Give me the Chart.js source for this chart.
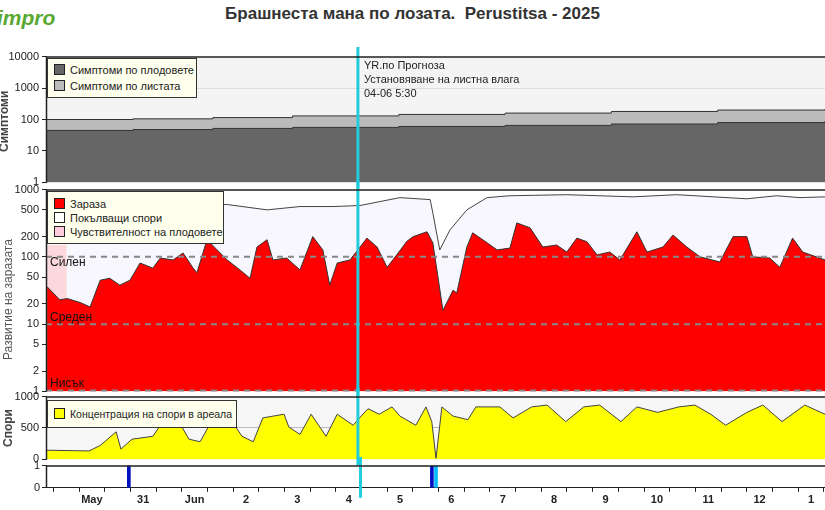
<!DOCTYPE html>
<html><head><meta charset="utf-8">
<script src="https://cdn.jsdelivr.net/npm/chart.js@4"></script>
<style>
body{margin:0;width:825px;height:510px;background:#fff;position:relative;overflow:hidden;font-family:"Liberation Sans",Arial,sans-serif}
canvas{position:absolute;left:0}
.t{position:absolute;white-space:nowrap}
.lg{position:absolute;background:#ffffee;border:1px solid #333;font-size:11px;color:#222;padding:3px 6px;line-height:16px;white-space:nowrap;box-sizing:border-box}
.sw{display:inline-block;width:9px;height:9px;border:1px solid #222;margin-right:5px;vertical-align:-1px}
.yt{position:absolute;transform:rotate(-90deg);transform-origin:left top;font-weight:bold;font-size:12px;color:#444;white-space:nowrap}
</style></head><body>
<div class="t" style="left:0;top:4px;width:825px;text-align:center;font-weight:bold;font-size:17px;color:#333">Брашнеста мана по лозата.&nbsp; Perustitsa - 2025</div>
<div class="t" style="left:-3px;top:6px;font-weight:bold;font-style:italic;font-size:21px;color:#5aa832">impro</div>
<canvas id="c1"></canvas><canvas id="c2"></canvas><canvas id="c3"></canvas><canvas id="c4"></canvas>
<div class="yt" style="left:-3px;top:152px">Симптоми</div>
<div class="yt" style="left:1px;top:360px;font-weight:normal;font-size:12px;color:#555">Развитие на заразата</div>
<div class="yt" style="left:1px;top:447px">Спори</div>
<div class="lg" style="left:47px;top:58px;width:150px;height:40px">
<div><span class="sw" style="background:#666"></span>Симптоми по плодовете</div>
<div><span class="sw" style="background:#bbb"></span>Симптоми по листата</div></div>
<div class="lg" style="left:47px;top:191px;width:177px;height:53px;padding-top:5px;line-height:14px">
<div><span class="sw" style="background:#f00"></span>Зараза</div>
<div><span class="sw" style="background:#fff"></span>Покълващи спори</div>
<div><span class="sw" style="background:#fcd"></span>Чувствителност на плодовете</div></div>
<div class="lg" style="left:47px;top:400px;width:190px;height:28px;font-size:10.5px;line-height:20px">
<div><span class="sw" style="background:#ff0"></span>Концентрация на спори в ареала</div></div>
<div class="t" style="left:364px;top:58px;font-size:11px;color:#222;line-height:14px">YR.по Прогноза<br>Установяване на листна влага<br>04-06 5:30</div>
<script>
const XMIN=-0.64, XMAX=14.02, NOW=5.23;
const dayLabels=["May","31","Jun","2","3","4","5","6","7","8","9","10","11","12","1"];
// symptoms (step)
const sympDays=[-0.64,1,2.5,4,6,8,10,12,14.02];
const fruitSymp=[45,48,52,56,60,65,72,80,90];
const leafSymp=[100,105,115,130,145,160,180,200,215];
// infection
const infDays=[-0.62,-0.38,-0.24,0,0.19,0.38,0.56,0.75,0.94,1.13,1.37,1.51,1.75,1.94,2.13,2.2,2.39,2.58,2.77,3.01,3.2,3.33,3.52,3.63,3.89,4.14,4.38,4.57,4.7,4.84,5.08,5.27,5.4,5.59,5.78,5.96,6.15,6.27,6.53,6.64,6.83,7.02,7.09,7.28,7.39,7.66,7.85,8.09,8.22,8.47,8.71,8.97,9.16,9.35,9.54,9.73,9.97,10.16,10.48,10.67,10.97,11.16,11.42,11.67,12.04,12.29,12.55,12.66,12.98,13.17,13.41,13.6,14.02];
const infection=[36,23,24,21,18,45,48,38,45,81,68,96,90,114,68,58,180,127,90,64,48,140,180,90,96,64,200,127,38,81,90,140,190,140,70,107,170,200,236,162,16,32,29,140,228,162,127,135,320,270,140,150,118,190,168,107,118,90,236,118,140,211,140,100,84,200,200,100,96,70,190,118,90];
const germDays=[-0.64,2.77,3.52,4.14,4.76,5.27,6.02,6.59,6.64,6.77,6.96,7.28,7.66,8.09,9.16,10.41,11.23,12.55,13.11,13.55,14.02];
const germSpores=[620,600,500,560,560,580,760,710,450,127,250,500,760,810,840,780,840,730,810,760,780];
const susDays=[-0.64,-0.25];
const susFruit=[150,150];
// spores
const sporeDays=[-0.62,0.17,0.38,0.68,0.77,0.98,1.37,1.56,1.86,2.05,2.26,2.47,2.86,3.05,3.26,3.44,3.84,3.93,4.14,4.35,4.63,4.84,5.14,5.29,5.42,5.63,5.87,6.02,6.32,6.51,6.62,6.7,6.81,7.02,7.3,7.45,7.9,8.15,8.5,8.79,9.14,9.48,9.78,10.18,10.48,10.87,11.27,11.57,11.87,12.15,12.55,12.85,13.21,13.64,14.02];
const spores=[146,135,222,439,164,322,368,602,602,322,281,602,602,368,281,661,719,515,398,719,368,719,544,690,807,719,836,690,544,836,602,18,836,690,632,836,836,661,836,865,602,836,865,602,836,749,836,865,719,544,749,865,602,865,719];
// events
const eventDays=[0.72,6.62,6.7];
const eventVals=[1,1,1];
const eventColors=["#0010c0","#0010c0","#00bbff"];

const pts=(xs,ys)=>xs.map((x,i)=>({x,y:ys[i]}));
const bgPlugin={id:'bg',beforeDraw(c,a,o){const {ctx,chartArea:ca}=c;ctx.save();ctx.fillStyle=o.color||'#fff';ctx.fillRect(ca.left,ca.top,ca.right-ca.left,ca.bottom-ca.top);ctx.restore();},
 afterDraw(c,a,o){const {ctx,chartArea:ca,scales}=c;ctx.save();const x=scales.x.getPixelForValue(NOW);ctx.strokeStyle='#22ccdd';ctx.lineWidth=3;ctx.beginPath();ctx.moveTo(x,0);ctx.lineTo(x,ca.bottom+(o.ext??6));ctx.stroke();
 ctx.strokeStyle='#222';ctx.lineWidth=1.5;ctx.beginPath();ctx.moveTo(ca.left,ca.top+0.5);ctx.lineTo(ca.right,ca.top+0.5);ctx.moveTo(ca.left+0.5,ca.top);ctx.lineTo(ca.left+0.5,ca.bottom);ctx.stroke();ctx.restore();}};
const levelPlugin={id:'lv',afterDatasetsDraw(c){const {ctx,chartArea:ca,scales}=c;ctx.save();ctx.setLineDash([6,5]);ctx.strokeStyle='#888';ctx.lineWidth=2;
 [[100,'Силен',9],[10,'Среден',-3],[1,'Нисък',-3]].forEach(([v,l,o])=>{const y=scales.y.getPixelForValue(v)-(v==1?1:0);ctx.beginPath();ctx.moveTo(ca.left,y);ctx.lineTo(ca.right,y);ctx.stroke();ctx.fillStyle='#111';ctx.font='12px "Liberation Sans"';ctx.fillText(l,ca.left+4,y+o);});ctx.restore();}};
function yAx(extra){return Object.assign({afterFit(s){s.width=46;},border:{color:'#222'},ticks:{color:'#222',font:{size:11,family:'Liberation Sans'},padding:2},grid:{drawOnChartArea:false,tickLength:4,tickColor:'#222'}},extra);}
const xHidden={type:'linear',min:XMIN,max:XMAX,display:false};
function mk(id,top,h,cfg){const cv=document.getElementById(id);cv.style.top=top+'px';cv.width=825;cv.height=h;cv.style.width='825px';cv.style.height=h+'px';
 cfg.options=Object.assign({responsive:false,animation:false,devicePixelRatio:1,layout:{padding:{top:0,bottom:0,right:0}},plugins:{legend:{display:false},tooltip:{enabled:false}},elements:{point:{radius:0}}},cfg.options);
 return new Chart(cv,cfg);}
const lineDs=(data,fill,color,extra)=>Object.assign({data,fill,backgroundColor:color,borderColor:'#333',borderWidth:1,tension:0},extra||{});

mk('c1',47,145,{type:'line',data:{datasets:[
 lineDs(pts(sympDays,fruitSymp),'origin','#666',{stepped:true,order:0}),
 lineDs(pts(sympDays,leafSymp),'origin','#bbb',{stepped:true,order:1})]},
 options:{plugins:{bg:{color:'#f4f4f4'},legend:{display:false}},scales:{x:xHidden,y:yAx({type:'logarithmic',min:1,max:10000,afterBuildTicks(s){s.ticks=[1,10,100,1000,10000].map(v=>({value:v}));},ticks:{color:'#222',font:{size:11},callback:v=>String(v)},grid:{drawOnChartArea:true,color:c=>c.tick.value==1000?'#ddd':'rgba(0,0,0,0)',tickColor:'#222',tickLength:4}})}},
 plugins:[bgPlugin]});
mk('c2',180,221,{type:'line',data:{datasets:[
 lineDs(pts(infDays,infection),'origin','#ff0000',{borderColor:'#333',order:0}),
 lineDs(pts(susDays,susFruit),'origin','#fcd8dc',{borderWidth:0,order:1}),
 lineDs(pts(germDays,germSpores),'origin','#f7f7fd',{borderColor:'#444',order:2})]},
 options:{plugins:{bg:{color:'#fff'},legend:{display:false}},scales:{x:xHidden,y:yAx({type:'logarithmic',min:1,max:1000,afterBuildTicks(s){s.ticks=[1,2,5,10,20,50,100,200,500,1000].map(v=>({value:v}));},ticks:{color:'#222',font:{size:11},callback:v=>String(v)}})}},
 plugins:[bgPlugin,levelPlugin]});
mk('c3',387,82,{type:'line',data:{datasets:[lineDs(pts(sporeDays,spores),'origin','#ffff00',{borderColor:'#444'})]},
 options:{plugins:{bg:{color:'#f7f7f7'},legend:{display:false}},scales:{x:xHidden,y:yAx({min:0,max:1000,afterBuildTicks(s){s.ticks=[0,500,1000].map(v=>({value:v}));},ticks:{color:'#222',font:{size:11},callback:v=>String(v)},grid:{drawOnChartArea:true,color:c=>c.tick.value==500?'#bbb':'rgba(0,0,0,0)',tickColor:'#222',tickLength:4}})}},
 plugins:[bgPlugin]});
mk('c4',457,52,{type:'bar',data:{datasets:[{data:pts(eventDays,eventVals),backgroundColor:eventColors,barThickness:3}]},
 options:{plugins:{bg:{color:'#fff',ext:10},legend:{display:false}},scales:{
  x:{type:'linear',min:XMIN,max:XMAX,afterBuildTicks(s){const t=[];for(let v=-0.5;v<=14.01;v+=0.5)t.push({value:v});s.ticks=t;},
   border:{color:'#222'},grid:{drawOnChartArea:false,tickLength:4,tickColor:'#222'},
   ticks:{autoSkip:false,maxRotation:0,padding:2,color:'#222',font:{size:11,weight:'bold'},callback:v=>Number.isInteger(v)&&v>=0?dayLabels[v]:''}},
  y:yAx({min:0,max:1,afterBuildTicks(s){s.ticks=[0,1].map(v=>({value:v}));}})}},
 plugins:[bgPlugin,{id:'h6',afterDraw(c){const {ctx,scales}=c;ctx.save();ctx.fillStyle='#444';ctx.font='11px "Liberation Sans"';ctx.textAlign='center';[6.36,13.28].forEach(d=>ctx.fillText('6',scales.x.getPixelForValue(d),502));ctx.restore();}}]});
</script></body></html>
